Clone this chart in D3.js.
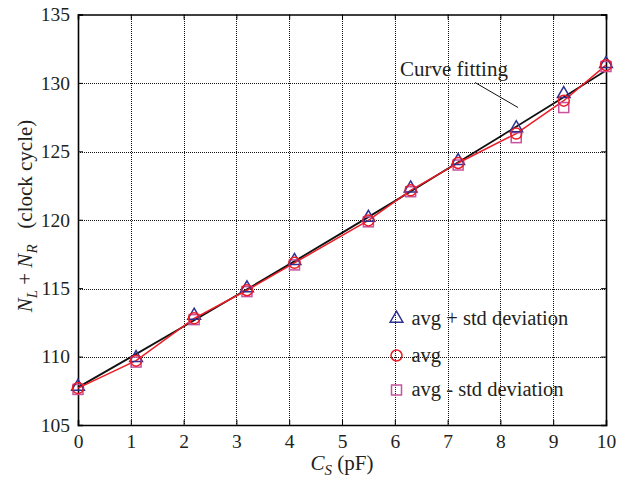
<html>
<head>
<style>
  body { margin: 0; background: #fff; }
  text { font-family: "Liberation Serif", "DejaVu Serif", serif; fill: #231f20; }
</style>
</head>
<body>
<script src="https://cdn.jsdelivr.net/npm/d3@7"></script>
<script>
// capacitance values (pF)
var cs = [0, 1.1, 2.2, 3.2, 4.1, 5.5, 6.3, 7.2, 8.3, 9.2, 10];
// N_L + N_R (clock cycles)
var avgPlus  = [107.8, 109.9, 113.0, 115.0, 117.0, 120.15, 122.3, 124.3, 126.7, 129.2, 131.4];
var avg      = [107.7, 109.7, 112.8, 114.85, 116.85, 119.95, 122.15, 124.15, 126.3, 128.7, 131.3];
var avgMinus = [107.6, 109.6, 112.7, 114.75, 116.7, 119.85, 122.05, 124.0, 126.0, 128.2, 131.2];
// curve fitting, read at integer pF
var fitX = [0, 1, 2, 3, 4, 5, 6, 7, 8, 9, 10];
var fitY = [107.75, 109.96, 112.2, 114.46, 116.74, 119.04, 121.36, 123.72, 126.09, 128.48, 130.9];
var xTicks = [0, 1, 2, 3, 4, 5, 6, 7, 8, 9, 10];
var yTicks = [105, 110, 115, 120, 125, 130, 135];
var legendLabels = ["avg + std deviation", "avg", "avg - std deviation"];

var W = 618, H = 483;
var m = {left: 78, top: 14.5, right: 12, bottom: 58};
var w = W - m.left - m.right, h = H - m.top - m.bottom;

var blue = "#2e3192", red = "#ed1c24", pink = "#c9519f";

var svg = d3.select("body").append("svg").attr("width", W).attr("height", H);
var g = svg.append("g").attr("transform", "translate(" + m.left + "," + m.top + ")");

var x = d3.scaleLinear().domain([0, 10]).range([0, w]);
var y = d3.scaleLinear().domain([105, 135]).range([h, 0]);

// grid
var grid = g.append("g").attr("stroke", "#111").attr("stroke-width", 1)
  .attr("stroke-dasharray", "1,1").attr("shape-rendering", "crispEdges");
grid.selectAll(".gx").data(xTicks.slice(1, -1)).enter().append("line")
  .attr("x1", function(d) { return Math.round(x(d)) + 0.5; })
  .attr("x2", function(d) { return Math.round(x(d)) + 0.5; })
  .attr("y1", 0).attr("y2", h);
grid.selectAll(".gy").data(yTicks.slice(1, -1)).enter().append("line")
  .attr("y1", function(d) { return Math.round(y(d)) + 0.5; })
  .attr("y2", function(d) { return Math.round(y(d)) + 0.5; })
  .attr("x1", 0).attr("x2", w);

// axes
g.append("g").attr("transform", "translate(0," + h + ")")
  .call(d3.axisBottom(x).tickValues(xTicks).tickSize(-5).tickPadding(9).tickFormat(d3.format("d")));
g.append("g")
  .call(d3.axisLeft(y).tickValues(yTicks).tickSize(-5).tickPadding(8).tickFormat(d3.format("d")));
g.append("g").call(d3.axisTop(x).tickValues(xTicks).tickSize(-5).tickFormat(""));
g.append("g").attr("transform", "translate(" + w + ",0)")
  .call(d3.axisRight(y).tickValues(yTicks).tickSize(-5).tickFormat(""));
g.selectAll(".domain").attr("stroke", "#000").attr("stroke-width", 1.6);
g.selectAll(".tick line").attr("stroke", "#000");
g.selectAll(".tick text").style("font-size", "19.5px").attr("fill", "#231f20");

// fitted curve
var line = d3.line().x(function(d) { return x(d[0]); }).y(function(d) { return y(d[1]); });
g.append("path").datum(d3.zip(fitX, fitY)).attr("d", line)
  .attr("fill", "none").attr("stroke", "#111").attr("stroke-width", 1.8);

// avg line
g.append("path").datum(d3.zip(cs, avg)).attr("d", line)
  .attr("fill", "none").attr("stroke", red).attr("stroke-width", 1.5);

var tri = d3.symbol().type(d3.symbolTriangle).size(70);
function square(sel) {
  sel.attr("width", 10).attr("height", 10).attr("x", -5).attr("y", -5)
    .attr("fill", "none").attr("stroke", pink).attr("stroke-width", 1.5);
}

g.selectAll(".sq").data(d3.zip(cs, avgMinus)).enter().append("rect")
  .attr("transform", function(d) { return "translate(" + x(d[0]) + "," + y(d[1]) + ")"; })
  .call(square);
g.selectAll(".tr").data(d3.zip(cs, avgPlus)).enter().append("path")
  .attr("d", tri)
  .attr("transform", function(d) { return "translate(" + x(d[0]) + "," + y(d[1]) + ")"; })
  .attr("fill", "none").attr("stroke", blue).attr("stroke-width", 1.5);
g.selectAll(".ci").data(d3.zip(cs, avg)).enter().append("circle")
  .attr("cx", function(d) { return x(d[0]); }).attr("cy", function(d) { return y(d[1]); })
  .attr("r", 5.5).attr("fill", "none").attr("stroke", red).attr("stroke-width", 1.5);

// annotation
g.append("text").attr("x", 322).attr("y", 61).style("font-size", "21px").text("Curve fitting");
g.append("line").attr("x1", 397).attr("y1", 68).attr("x2", 440).attr("y2", 93)
  .attr("stroke", "#111").attr("stroke-width", 1);

// legend
var lx = 318.5, ly = [304, 341, 375.5];
var leg = g.selectAll(".leg").data(legendLabels).enter().append("g")
  .attr("transform", function(d, i) { return "translate(" + lx + "," + ly[i] + ")"; });
leg.filter(function(d, i) { return i === 0; }).append("path").attr("d", tri)
  .attr("fill", "none").attr("stroke", blue).attr("stroke-width", 1.5);
leg.filter(function(d, i) { return i === 1; }).append("circle").attr("r", 5.5)
  .attr("fill", "none").attr("stroke", red).attr("stroke-width", 1.5);
leg.filter(function(d, i) { return i === 2; }).append("rect").call(square);
leg.append("text").attr("x", 15).attr("y", 6).style("font-size", "20.5px").text(function(d) { return d; });

// axis labels
var xl = svg.append("text").attr("x", 342).attr("y", 470).attr("text-anchor", "middle").style("font-size", "21px");
xl.append("tspan").style("font-style", "italic").text("C");
xl.append("tspan").style("font-style", "italic").style("font-size", "15px").attr("dy", 5).text("S");
xl.append("tspan").attr("dy", -5).text(" (pF)");

var yl = svg.append("text").attr("transform", "translate(32,216) rotate(-90)")
  .attr("text-anchor", "middle").style("font-size", "21px");
yl.append("tspan").style("font-style", "italic").text("N");
yl.append("tspan").style("font-style", "italic").style("font-size", "15px").attr("dy", 5).text("L");
yl.append("tspan").attr("dy", -5).text(" + ");
yl.append("tspan").style("font-style", "italic").text("N");
yl.append("tspan").style("font-style", "italic").style("font-size", "15px").attr("dy", 5).text("R");
yl.append("tspan").attr("dy", -5).text("\u2002 (clock cycle)");
</script>
</body>
</html>
